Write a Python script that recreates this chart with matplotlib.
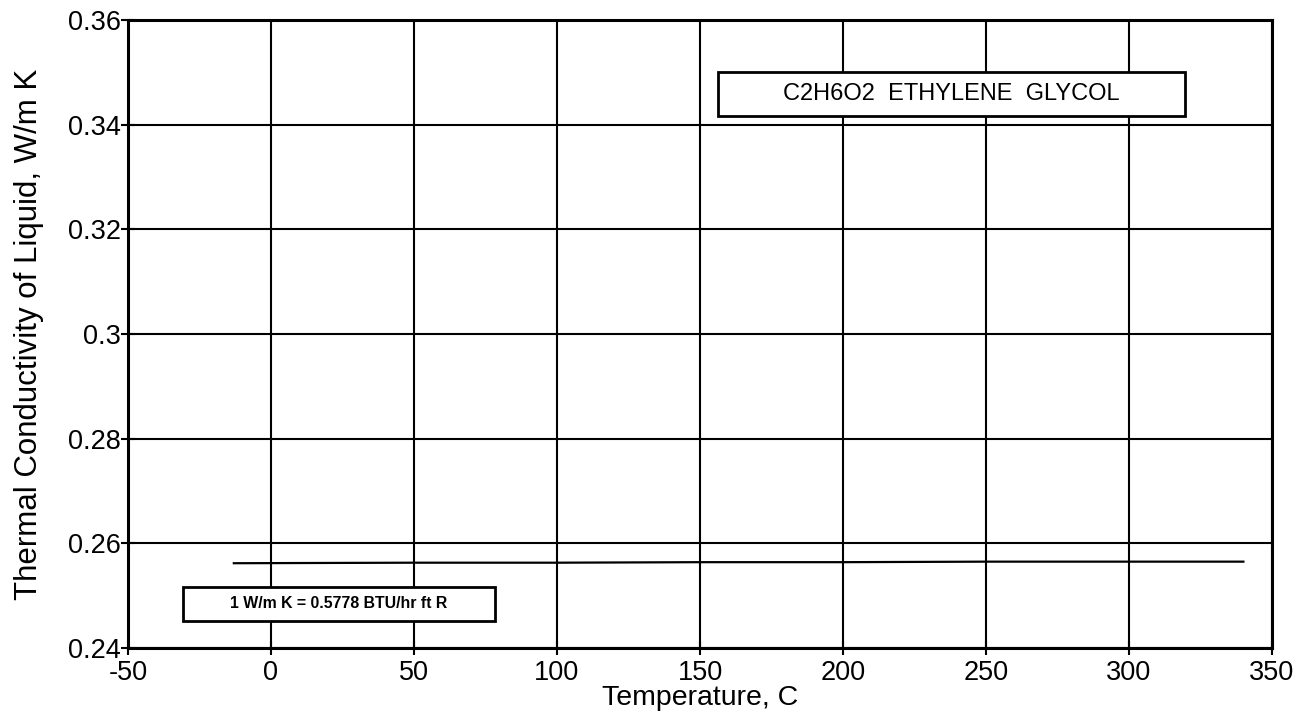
import matplotlib.pyplot as plt
from matplotlib.patches import Rectangle

plt.rcParams['font.family'] = ['Liberation Sans', 'DejaVu Sans']
plt.rcParams['axes.unicode_minus'] = False

# Data
temp_c = [-13, 50, 100, 150, 200, 250, 300, 340]
k_liquid = [0.2562, 0.2563, 0.2563, 0.2564, 0.2564, 0.2565, 0.2565, 0.2565]

x_ticks = [-50, 0, 50, 100, 150, 200, 250, 300, 350]
y_ticks = [0.24, 0.26, 0.28, 0.30, 0.32, 0.34, 0.36]
y_labels = ['0.24', '0.26', '0.28', '0.3', '0.32', '0.34', '0.36']

W, H = 1315, 722
fig = plt.figure(figsize=(W / 100, H / 100), dpi=100)
ax = fig.add_axes([128 / W, 1 - 648 / H, 1144 / W, 628 / H])

ax.plot(temp_c, k_liquid, color='black', lw=1.6)

ax.set_xlim(-50, 350)
ax.set_ylim(0.24, 0.36)
ax.set_xticks(x_ticks)
ax.set_yticks(y_ticks)
ax.set_yticklabels(y_labels)
ax.grid(True, color='black', lw=1.5)
ax.tick_params(direction='inout', length=10, width=1.5, labelsize=19.5)
ax.tick_params(axis='x', pad=4)
ax.tick_params(axis='y', pad=0)
for s in ax.spines.values():
    s.set_linewidth(2.2)

ax.set_xlabel('Temperature, C', fontsize=20.5, labelpad=-1)
ax.set_ylabel('Thermal Conductivity of Liquid, W/m K', fontsize=22.5, labelpad=17)


def label_box(x0, y0, x1, y1, text, **kw):
    # box given in pixel coords of the reference, converted to axes fractions
    ax0, ay0 = (x0 - 128) / 1144, (648 - y1) / 628
    w, h = (x1 - x0) / 1144, (y1 - y0) / 628
    ax.add_patch(Rectangle((ax0, ay0), w, h, transform=ax.transAxes,
                           fc='white', ec='black', lw=2, zorder=5))
    ax.text(ax0 + w / 2, ay0 + h / 2, text, transform=ax.transAxes,
            ha='center', va='center', zorder=6, **kw)


label_box(718, 72, 1185, 116, 'C2H6O2  ETHYLENE  GLYCOL', fontsize=17)
label_box(183, 587, 495, 621, '1 W/m K = 0.5778 BTU/hr ft R',
          fontsize=11.4, fontweight='bold')

fig.savefig('out.png', dpi=100)
